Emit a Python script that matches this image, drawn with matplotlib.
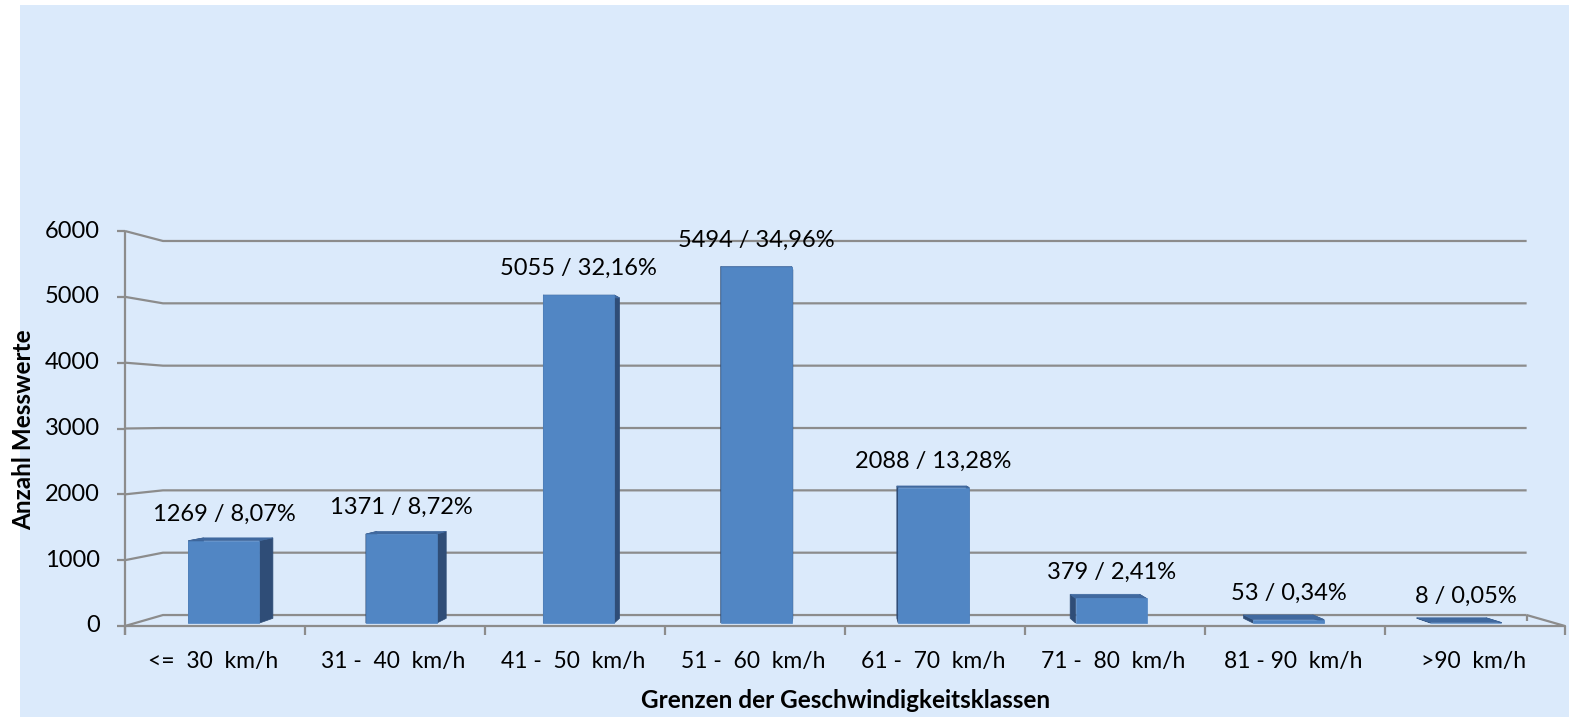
import matplotlib
matplotlib.use('Agg')
import matplotlib.pyplot as plt
from matplotlib.patches import Polygon, Rectangle

# data
categories = ['<=  30  km/h', '31 -  40  km/h', '41 -  50  km/h', '51 -  60  km/h',
              '61 -  70  km/h', '71 -  80  km/h', '81 - 90  km/h', '>90  km/h']
counts = [1269, 1371, 5055, 5494, 2088, 379, 53, 8]
percents = ['8,07%', '8,72%', '32,16%', '34,96%', '13,28%', '2,41%', '0,34%', '0,05%']
y_ticks = [0, 1000, 2000, 3000, 4000, 5000, 6000]

W, H = 1569, 717
PX_CAT = 180.0      # pixels per category on the front plane
PX_VAL = 0.06583    # pixels per unit on the front plane
X0_PX, Y0_PX = 125, 626

# fake 3d: perspective towards a vanishing point, depth 0 (front) .. 1 (back wall)
VX, VY = 3.978, 3144.0
DEPTH = 0.053
BAR_Z = (0.27, 0.70)
BAR_HALF = 0.2

BG = '#dbeafb'
GRID = '#8c8c8c'
FRONT = '#5186c4'
SIDE = '#2f4d77'
TOP = '#40699f'

plt.rcParams['font.family'] = ['Lato', 'DejaVu Sans']


def proj(x, y, z):
    s = 1 - DEPTH * z
    return VX + (x - VX) * s, VY + (y - VY) * s


def line3d(ax, pts, **kw):
    xy = [proj(*p) for p in pts]
    ax.plot([p[0] for p in xy], [p[1] for p in xy], **kw)


def face(ax, pts, color, z):
    ax.add_patch(Polygon([proj(*p) for p in pts], closed=True, facecolor=color,
                         edgecolor=color, lw=0.5, zorder=z))


def main():
    fig = plt.figure(figsize=(W / 100, H / 100), dpi=100, facecolor='white')
    bg = fig.add_axes([20 / W, 0, 1 - 20 / W, 1 - 5 / H], zorder=-1)
    bg.set_facecolor(BG)
    bg.axis('off')
    bg.add_patch(Rectangle((0, 0), 1, 1, transform=bg.transAxes, facecolor=BG, edgecolor='none'))

    ax = fig.add_axes([0, 0, 1, 1])
    ax.set_xlim(-X0_PX / PX_CAT, (W - X0_PX) / PX_CAT)
    ax.set_ylim((Y0_PX - H) / PX_VAL, Y0_PX / PX_VAL)
    ax.axis('off')
    ax.patch.set_alpha(0)

    n = len(categories)
    lkw = dict(color=GRID, lw=1.6, solid_capstyle='butt', zorder=1)
    tick_x = 8 / PX_CAT
    tick_y = 9 / PX_VAL

    # back wall gridlines + left wall
    for v in y_ticks:
        line3d(ax, [(0, v, 0), (0, v, 1), (n, v, 1)], **lkw)
        line3d(ax, [(-tick_x, v, 0), (0, v, 0)], **lkw)
    # floor edges
    line3d(ax, [(0, 0, 0), (n, 0, 0), (n, 0, 1)], **lkw)
    line3d(ax, [(n, 0, 1), (n, -tick_y * 0.7, 1)], **lkw)
    # y axis
    line3d(ax, [(0, -tick_y, 0), (0, y_ticks[-1], 0)], **lkw)
    for i in range(n + 1):
        line3d(ax, [(i, 0, 0), (i, -tick_y, 0)], **lkw)

    for v in y_ticks:
        ax.text(-25 / PX_CAT, v, str(v), ha='right', va='center', fontsize=17, color='black')

    for i, lab in enumerate(categories):
        ax.text(i + 0.49, -535, lab, ha='center', va='center', fontsize=16.5, color='black')

    # bars
    for i, v in enumerate(counts):
        x1, x2 = i + 0.5 - BAR_HALF, i + 0.5 + BAR_HALF
        zf, zb = BAR_Z
        face(ax, [(x1, 0, zf), (x1, v, zf), (x1, v, zb), (x1, 0, zb)], SIDE, 3)
        face(ax, [(x2, 0, zf), (x2, v, zf), (x2, v, zb), (x2, 0, zb)], SIDE, 3)
        face(ax, [(x1, v, zf), (x2, v, zf), (x2, v, zb), (x1, v, zb)], TOP, 4)
        face(ax, [(x1, 0, zf), (x2, 0, zf), (x2, v, zf), (x1, v, zf)], FRONT, 5)
        lx, ly = proj(i + 0.5, v, zf)
        ax.annotate('{} / {}'.format(v, percents[i]), (lx, ly), xytext=(0, 19),
                    textcoords='offset points', ha='center', va='center',
                    fontsize=17, color='black', zorder=6)

    fig.text(24 / W, 1 - 430 / H, 'Anzahl Messwerte', rotation=90, ha='center', va='center',
             fontsize=17.5, fontweight='bold')
    fig.text(846 / W, 1 - 700 / H, 'Grenzen der Geschwindigkeitsklassen', ha='center',
             va='center', fontsize=17.5, fontweight='bold')

    fig.savefig('out.png', dpi=100, facecolor=fig.get_facecolor())


if __name__ == '__main__':
    main()
